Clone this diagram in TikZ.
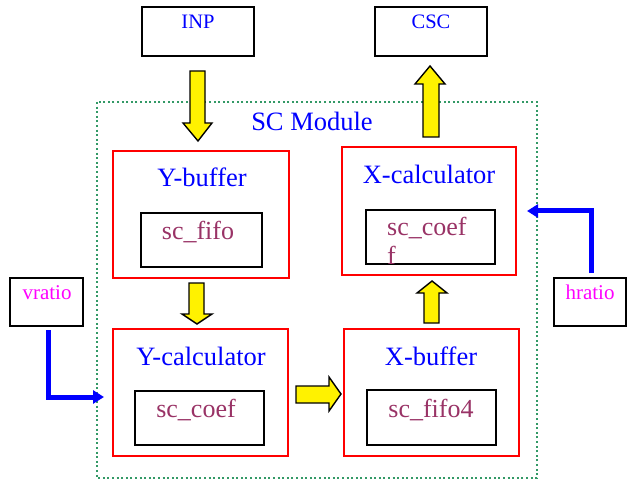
\documentclass[tikz,border=0pt]{standalone}
\usepackage{fontspec}
\setmainfont{Liberation Serif}
\usetikzlibrary{arrows.meta}
\definecolor{dotgreen}{RGB}{51,153,102}
\definecolor{subtxt}{RGB}{153,51,102}
\definecolor{ratiotxt}{RGB}{255,0,255}
\begin{document}
\begin{tikzpicture}[x=1pt,y=-1pt,
  outerbox/.style={draw=black,line width=1.6pt,fill=none},
  redbox/.style={draw=red,line width=1.8pt},
  innerbox/.style={draw=black,line width=1.6pt},
  modbox/.style={draw=dotgreen,line width=2pt,dash pattern=on 2pt off 2.6pt},
  title/.style={text=blue,font=\fontsize{26.5}{30}\selectfont,anchor=base,inner sep=0pt},
  subt/.style={text=subtxt,font=\fontsize{26}{28}\selectfont,anchor=base,inner sep=0pt},
  ext/.style={text=blue,font=\fontsize{20.5}{24}\selectfont,anchor=base,inner sep=0pt},
  ratio/.style={text=ratiotxt,font=\fontsize{21}{24}\selectfont,anchor=base,inner sep=0pt},
  yarrow/.style={fill=yellow,draw=black,line width=1.4pt,line join=miter},
  bluearrow/.style={draw=blue,line width=5pt,-{Triangle[length=11pt,width=13pt]}}
]
\useasboundingbox (0,0) rectangle (629,481);

% module boundary
\draw[modbox] (97,102) rectangle (537,478);
\node[title] (modlbl) at (312,131) {SC Module};

% external boxes
\draw[outerbox] (142,7) rectangle (254,56);
\node[ext] (inp) at (198,29) {INP};
\draw[outerbox] (375,7) rectangle (487,56);
\node[ext] (csc) at (431,29) {CSC};
\draw[outerbox] (10,278) rectangle (83,326);
\node[ratio] (vratio) at (47,299) {vratio};
\draw[outerbox] (554,278) rectangle (626,326);
\node[ratio] (hratio) at (590,299) {hratio};

% red blocks
\draw[redbox] (113,151) rectangle (289,278);
\node[title] (ybuf) at (202,187) {Y-buffer};
\draw[redbox] (342,147) rectangle (516,275);
\node[title] (xcalc) at (429,184) {X-calculator};
\draw[redbox] (113,329) rectangle (288,456);
\node[title] (ycalc) at (201,365) {Y-calculator};
\draw[redbox] (344,329) rectangle (519,456);
\node[title] (xbuf) at (431,365) {X-buffer};

% inner boxes
\draw[innerbox] (141,213) rectangle (262,267);
\node[subt] (fifo) at (198,240) {sc\_fifo};
\draw[innerbox] (366,210) rectangle (495,264);
\node[subt,anchor=base west] (coefx) at (387,236) {sc\_coef};
\node[subt,anchor=base west] (coefxf) at (387,264) {f};
\draw[innerbox] (135,391) rectangle (264,445);
\node[subt] (coefy) at (196,417) {sc\_coef};
\draw[innerbox] (367,390) rectangle (496,445);
\node[subt] (fifofour) at (431,417) {sc\_fifo4};

% yellow block arrows
\draw[yarrow] (190,71) -- (205,71) -- (205,123) -- (212,123) -- (198,141) -- (183,123) -- (190,123) -- cycle;
\draw[yarrow] (189,283) -- (204,283) -- (204,314) -- (212,314) -- (197,324) -- (182,314) -- (189,314) -- cycle;
\draw[yarrow] (296,386) -- (329,386) -- (329,377) -- (341,394) -- (329,411) -- (329,403) -- (296,403) -- cycle;
\draw[yarrow] (424,323) -- (439,323) -- (439,293) -- (447,293) -- (432,281) -- (417,293) -- (424,293) -- cycle;
\draw[yarrow] (423,137) -- (439,137) -- (439,84) -- (445,84) -- (430,66) -- (415,84) -- (423,84) -- cycle;

% blue ratio arrows
\coordinate (vin) at (104,397);
\coordinate (vstart) at (48,330);
\draw[bluearrow] (vstart) |- (vin);
\coordinate (hin) at (527,211);
\coordinate (hstart) at (591,273);
\draw[bluearrow] (hstart) |- (hin);
\end{tikzpicture}
\end{document}
